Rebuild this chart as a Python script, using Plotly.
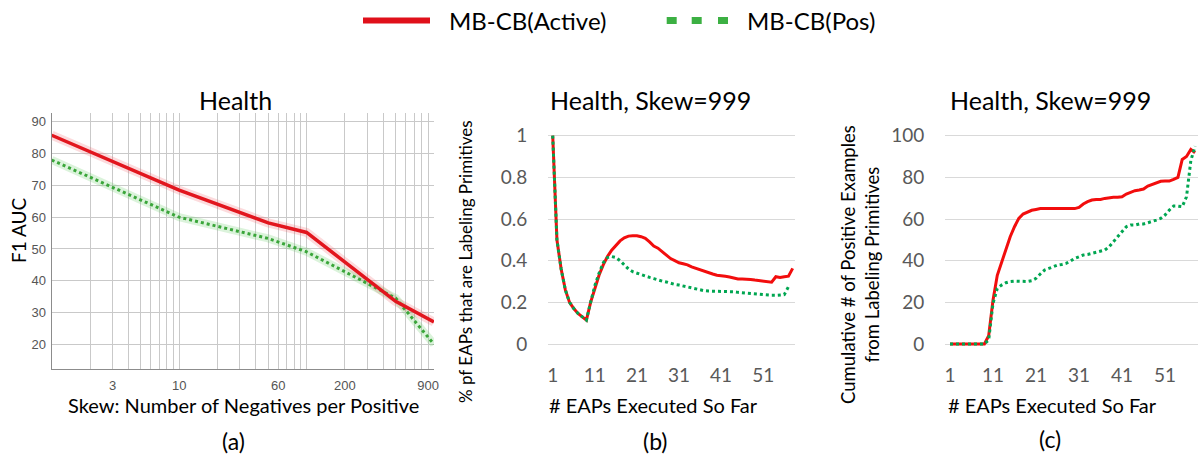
import plotly.graph_objects as go

W, H = 1198, 462

# ---------------- data ----------------
series_names = ["MB-CB(Active)", "MB-CB(Pos)"]

# Panel (a): F1 AUC vs skew
a_skew = [1, 10, 50, 100, 500, 999]
a_active = [85.8, 68.5, 58.2, 55.2, 33.5, 27.0]
a_pos = [78.0, 60.0, 53.3, 49.1, 34.5, 20.0]
a_tickvals = [3, 10, 60, 200, 900]
a_ticktext = ["3", "10", "60", "200", "900"]
a_minor_grid = [1, 2, 3, 4, 5, 6, 7, 8, 9,
                10, 20, 30, 40, 50, 60, 70, 80, 90,
                100, 200, 300, 400, 500, 600, 700, 800, 900, 1000]

# Panels (b) and (c): per EAP executed
eaps = list(range(1, 59))
b_active = [1.0, 0.5, 0.36, 0.26, 0.2, 0.17, 0.147, 0.13, 0.115, 0.2,
            0.27, 0.33, 0.38, 0.42, 0.45, 0.475, 0.495, 0.51, 0.518, 0.52,
            0.52, 0.515, 0.507, 0.49, 0.47, 0.46, 0.443, 0.427, 0.41, 0.40,
            0.39, 0.385, 0.38, 0.37, 0.363, 0.355, 0.347, 0.342, 0.336, 0.33,
            0.326, 0.325, 0.322, 0.317, 0.312, 0.312, 0.312, 0.31, 0.307, 0.304,
            0.302, 0.299, 0.297, 0.323, 0.32, 0.323, 0.326, 0.363]
b_pos = [1.0, 0.5, 0.36, 0.26, 0.2, 0.17, 0.147, 0.13, 0.115, 0.2,
         0.28, 0.34, 0.39, 0.415, 0.42, 0.415, 0.40, 0.38, 0.36, 0.347,
         0.34, 0.331, 0.326, 0.32, 0.314, 0.307, 0.302, 0.298, 0.291, 0.286,
         0.283, 0.278, 0.274, 0.269, 0.264, 0.259, 0.256, 0.254, 0.254, 0.253,
         0.254, 0.254, 0.253, 0.251, 0.248, 0.246, 0.245, 0.243, 0.24, 0.237,
         0.235, 0.235, 0.234, 0.234, 0.234, 0.237, 0.275, None]
c_active = [0, 0, 0, 0, 0, 0, 0, 0, 0, 4,
            21, 33, 39.5, 46, 51.5, 56.3, 60.3, 62.4, 63.5, 64.2,
            64.6, 65, 65, 65, 65, 65, 65, 65, 65, 65,
            65.6, 67.2, 68.3, 69.1, 69.4, 69.4, 69.9, 70.2, 70.4, 70.4,
            70.7, 72, 73, 73.6, 73.9, 74.4, 75.8, 76.6, 77.4, 78.1,
            78.2, 78.2, 79, 80, 88.6, 90, 93.4, 91.8]
c_pos = [0, 0, 0, 0, 0, 0, 0, 0, 0, 2,
         19.5, 26.7, 28.3, 29.4, 30, 30.2, 30.2, 30.2, 30, 30.4,
         31.5, 33.6, 35.5, 36.3, 37.1, 37.9, 38.2, 38.7, 39.8, 41.1,
         41.9, 42.7, 43, 43.5, 44, 44.3, 45.1, 46.7, 49.1, 51.5,
         53.9, 56.3, 57.1, 57.1, 57.6, 57.6, 58.2, 58.7, 59.5, 60.3,
         61.9, 64.3, 66.2, 66.2, 65.9, 70.7, 88, 95]
bc_tickvals = [1, 11, 21, 31, 41, 51]
b_yticks = [0, 0.2, 0.4, 0.6, 0.8, 1]
b_yticktext = ["0", "0.2", "0.4", "0.6", "0.8", "1"]
c_yticks = [0, 20, 40, 60, 80, 100]

# ---------------- styling ----------------
RED_A = "#e2161e"
GREEN_A = "#3aa63a"
RED = "#f20d0d"
GREEN = "#00a651"
LEGEND_GREEN = "#3cb043"
GRID_A = "#c9c9c9"
GRID_BC = "#d9d9d9"
TICK_BC = "#595959"
FONT = "Lato"


def px(x):
    return x / W


def py(y):
    return 1 - y / H


fig = go.Figure()

# panel (a) shaded bands + lines
fig.add_trace(go.Scatter(x=a_skew, y=a_active, mode="lines", xaxis="x", yaxis="y",
                         line=dict(color="rgba(240,90,100,0.22)", width=9), hoverinfo="skip"))
fig.add_trace(go.Scatter(x=a_skew, y=a_pos, mode="lines", xaxis="x", yaxis="y",
                         line=dict(color="rgba(90,200,90,0.22)", width=8), hoverinfo="skip"))
fig.add_trace(go.Scatter(x=a_skew, y=a_pos, mode="lines", xaxis="x", yaxis="y", name=series_names[1],
                         line=dict(color=GREEN_A, width=3, dash="dot")))
fig.add_trace(go.Scatter(x=a_skew, y=a_active, mode="lines", xaxis="x", yaxis="y", name=series_names[0],
                         line=dict(color=RED_A, width=3.5)))

# panel (b)
fig.add_trace(go.Scatter(x=eaps, y=b_active, mode="lines", xaxis="x2", yaxis="y2", name=series_names[0],
                         line=dict(color=RED, width=3)))
fig.add_trace(go.Scatter(x=eaps, y=b_pos, mode="lines", xaxis="x2", yaxis="y2", name=series_names[1],
                         line=dict(color=GREEN, width=3, dash="dot")))

# panel (c)
fig.add_trace(go.Scatter(x=eaps, y=c_active, mode="lines", xaxis="x3", yaxis="y3", name=series_names[0],
                         line=dict(color=RED, width=3)))
fig.add_trace(go.Scatter(x=eaps, y=c_pos, mode="lines", xaxis="x3", yaxis="y3", name=series_names[1],
                         line=dict(color=GREEN, width=3, dash="dot")))

bc_y_domain = [py(348.2), py(131.5)]

fig.update_layout(
    width=W, height=H,
    margin=dict(l=0, r=0, t=0, b=0, pad=0, autoexpand=False),
    paper_bgcolor="white", plot_bgcolor="white",
    showlegend=False,
    font=dict(family=FONT, color="black"),
    xaxis=dict(
        domain=[px(51.7), px(434)], type="log", range=[0, 3], automargin=False,
        tickmode="array", tickvals=a_tickvals, ticktext=a_ticktext,
        tickfont=dict(family="Liberation Sans", size=13, color="#555555"),
        showgrid=True, gridcolor=GRID_A, gridwidth=1,
        minor=dict(tickvals=a_minor_grid, showgrid=True, gridcolor=GRID_A, gridwidth=1),
        showline=True, linecolor="#8c8c8c", linewidth=1.3,
        ticks="outside", ticklen=4, tickcolor="rgba(0,0,0,0)",
        zeroline=False, fixedrange=True,
    ),
    yaxis=dict(
        domain=[py(369.3), py(112.7)], range=[12.1, 92.9], automargin=False,
        tickmode="array", tickvals=[20, 30, 40, 50, 60, 70, 80, 90],
        tickfont=dict(family="Liberation Sans", size=13, color="#555555"),
        showgrid=True, gridcolor=GRID_A, gridwidth=1,
        showline=True, linecolor="#8c8c8c", linewidth=1.3,
        ticks="outside", ticklen=2, tickcolor="rgba(0,0,0,0)",
        zeroline=False, fixedrange=True,
    ),
    xaxis2=dict(
        domain=[px(548), px(795)], range=[-0.12, 58.55], anchor="y2", automargin=False,
        tickmode="array", tickvals=bc_tickvals,
        tickfont=dict(family=FONT, size=19, color=TICK_BC),
        showgrid=False, showline=False, zeroline=False,
        ticks="outside", ticklen=10, tickcolor="rgba(0,0,0,0)",
    ),
    yaxis2=dict(
        domain=bc_y_domain, range=[-0.02, 1.02], anchor="x2", automargin=False,
        tickmode="array", tickvals=b_yticks, ticktext=b_yticktext,
        tickfont=dict(family=FONT, size=19, color=TICK_BC),
        showgrid=True, gridcolor=GRID_BC, gridwidth=1,
        showline=False, zeroline=False,
        ticks="outside", ticklen=16, tickcolor="rgba(0,0,0,0)",
    ),
    xaxis3=dict(
        domain=[px(945), 1.0], range=[-0.16, 58.67], anchor="y3", automargin=False,
        tickmode="array", tickvals=bc_tickvals,
        tickfont=dict(family=FONT, size=19, color=TICK_BC),
        showgrid=False, showline=False, zeroline=False,
        ticks="outside", ticklen=10, tickcolor="rgba(0,0,0,0)",
    ),
    yaxis3=dict(
        domain=bc_y_domain, range=[-2, 102], anchor="x3", automargin=False,
        tickmode="array", tickvals=c_yticks,
        tickfont=dict(family=FONT, size=19, color=TICK_BC),
        showgrid=True, gridcolor=GRID_BC, gridwidth=1,
        showline=False, zeroline=False,
        ticks="outside", ticklen=16, tickcolor="rgba(0,0,0,0)",
    ),
)

annotations = []


def ann(text, x, y, size, angle=0, color="black", family=FONT):
    annotations.append(dict(
        text=text, x=px(x), y=py(y), xref="paper", yref="paper",
        xanchor="center", yanchor="middle", showarrow=False,
        textangle=angle, font=dict(family=family, size=size, color=color),
    ))


# titles
ann("Health", 235, 100, 25)
ann("Health, Skew=999", 650, 100, 25)
ann("Health, Skew=999", 1050, 100, 25)
# axis titles
ann("F1 AUC", 18, 230, 19, angle=-90)
ann("Skew: Number of Negatives per Positive", 243, 405, 20)
ann("% pf EAPs that are Labeling Primitives", 465, 262, 17, angle=-90)
ann("# EAPs Executed So Far", 653, 405, 20)
ann("Cumulative # of Positive Examples<br>from Labeling Primitives", 860, 265, 18.5, angle=-90)
ann("# EAPs Executed So Far", 1052, 405, 20)
# panel labels
ann("(a)", 233, 441, 23)
ann("(b)", 655, 441, 23)
ann("(c)", 1050, 439, 23)

# legend text
annotations.append(dict(text=series_names[0], x=px(447), y=py(21), xref="paper", yref="paper",
                        xanchor="left", yanchor="middle", showarrow=False,
                        font=dict(family=FONT, size=24, color="black")))
annotations.append(dict(text=series_names[1], x=px(745), y=py(21), xref="paper", yref="paper",
                        xanchor="left", yanchor="middle", showarrow=False,
                        font=dict(family=FONT, size=24, color="black")))

shapes = [dict(type="line", xref="paper", yref="paper", x0=px(363), x1=px(430), y0=py(20.5), y1=py(20.5),
               line=dict(color="#e0101a", width=6))]
for cx in (671.7, 696.7, 723):
    shapes.append(dict(type="rect", xref="paper", yref="paper",
                       x0=px(cx - 5), x1=px(cx + 5), y0=py(24), y1=py(17),
                       line=dict(width=0), fillcolor=LEGEND_GREEN))

fig.update_layout(annotations=annotations, shapes=shapes)

page_fix = (
    "var s=document.documentElement.style;s.margin='0';s.padding='0';s.overflow='hidden';"
    "var b=document.body.style;b.margin='0';b.padding='0';b.overflow='hidden';"
)

fig.write_html("out.html", config={"displayModeBar": False}, post_script=page_fix)
